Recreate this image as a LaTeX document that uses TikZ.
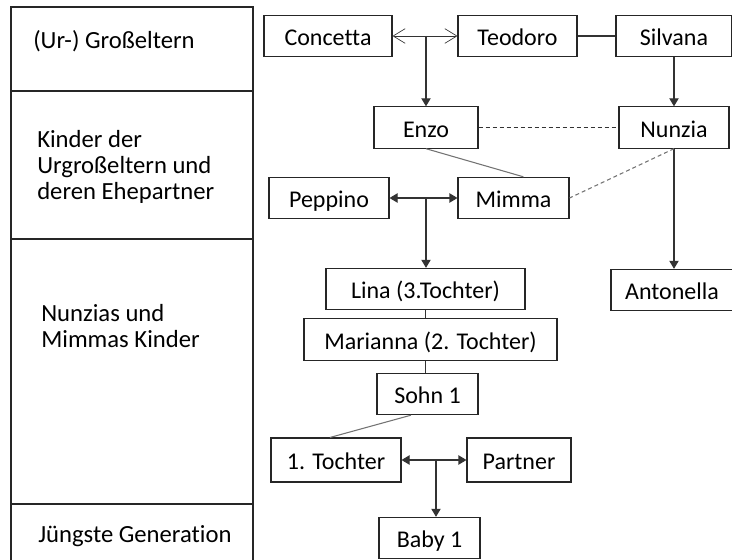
\documentclass[tikz,border=0pt]{standalone}
\usepackage{fontspec}
\setmainfont{Carlito}[Ligatures=NoCommon]
\usetikzlibrary{arrows.meta}

\begin{document}
\begin{tikzpicture}[x=0.75pt, y=-0.75pt,
    every node/.style={font=\fontsize{18}{19}\selectfont},
    person/.style={draw=black!85, line width=0.8pt, minimum height=31pt, inner sep=0pt,
        text height=14.6pt, text depth=0pt},
    ebene/.style={anchor=west, align=left, inner sep=0pt, font=\fontsize{18.5}{19.2}\selectfont},
    link/.style={draw=black!80, line width=0.8pt},
    kind/.style={link, -{Triangle[length=6pt,width=7pt]}},
    paar/.style={link, {Triangle[length=6pt,width=7pt]}-{Triangle[length=6pt,width=7pt]}},
    grau/.style={draw=black!55, line width=0.8pt},
    strich/.style={dash pattern=on 3pt off 2.25pt}]
        \useasboundingbox (0,0) rectangle (732,560);
        \clip (0,0) rectangle (732,560);

        % Spalte links
        \draw[line width=0.8pt, black!85] (11,7) rectangle (253,600);
        \foreach \y in {91,239,504}
            \draw[line width=0.8pt, black!85] (11,\y) -- (253,\y);
        \node[ebene] (g1) at (33,41) {(Ur-) Großeltern};
        \node[ebene] (g2) at (37,167) {Kinder der\\Urgroßeltern und\\deren Ehepartner};
        \node[ebene] (g3) at (41,326) {Nunzias und\\Mimmas Kinder};
        \node[ebene] (g4) at (38,536) {Jüngste Generation};

        % Urgroßeltern
        \node[person, minimum width=96pt] (concetta) at (328,36) {Concetta};
        \node[person, minimum width=89.25pt] (teodoro) at (517.5,36) {Teodoro};
        \node[person, minimum width=87pt] (silvana) at (674,36) {Silvana};

        % Kinder und Ehepartner
        \node[person, minimum width=78pt] (enzo) at (426,127.5) {Enzo};
        \node[person, minimum width=82.5pt] (nunzia) at (674,127.5) {Nunzia};
        \node[person, minimum width=90pt] (peppino) at (329,198) {Peppino};
        \node[person, minimum width=83.25pt] (mimma) at (513.5,198) {Mimma};

        % Enkel
        \node[person, minimum width=149.25pt] (lina) at (425.5,289) {Lina (3.Tochter)};
        \node[person, minimum width=91.5pt] (antonella) at (672,290) {Antonella};
        \node[person, minimum width=189.75pt] (marianna) at (430.5,339.5) {Marianna (2. Tochter)};
        \node[person, minimum width=75.75pt] (sohn) at (427.5,394) {Sohn 1};

        % Jüngste
        \node[person, minimum width=97.5pt, minimum height=33pt] (tochter) at (336,460) {1. Tochter};
        \node[person, minimum width=78pt, minimum height=33pt] (partner) at (519,460) {Partner};
        \node[person, minimum width=75.75pt] (baby) at (429.5,538) {Baby 1};

        % Verbindungen
        \coordinate (ct) at (426,36);
        \coordinate (pm) at (426,198);
        \coordinate (tp) at (436,460);
        \draw[link, {Straight Barb[length=9pt,width=11pt]}-{Straight Barb[length=9pt,width=11pt]}, line width=0.5pt] (concetta) -- (teodoro);
        \draw[kind] (ct) -- (enzo);
        \draw[link] (teodoro) -- (silvana);
        \draw[kind] (silvana) -- (nunzia);
        \draw[kind] (nunzia.south) -- (nunzia.south |- antonella.north);
        \draw[link, strich] (enzo) -- (nunzia);
        \draw[grau] (enzo.south) -- (mimma.65);
        \draw[grau, strich] (nunzia.south) -- (mimma.east);
        \draw[paar] (peppino) -- (mimma);
        \draw[kind] (pm) -- (pm |- lina.north);
        \draw[link] (lina) -- (lina |- marianna.north);
        \draw[link] (lina |- marianna.south) -- (lina |- sohn.north);
        \draw[grau] (sohn.232) -- (tochter.105);
        \draw[paar] (tochter) -- (partner);
        \draw[kind] (tp) -- (tp |- baby.north);

    \end{tikzpicture}
\end{document}
